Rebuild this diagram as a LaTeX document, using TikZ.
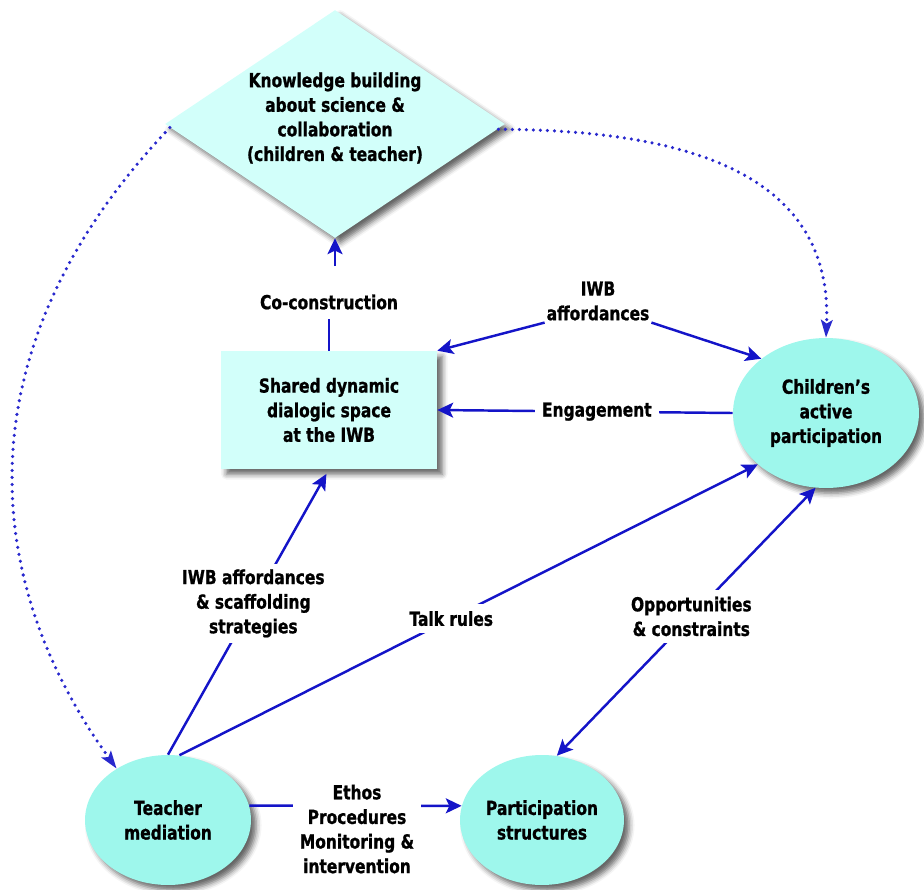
\documentclass[tikz,border=0pt]{standalone}
\usepackage{fontspec}
\setmainfont{DejaVu Sans}[FakeStretch=0.8,BoldFeatures={FakeBold=1}]
\usetikzlibrary{shapes.geometric,arrows.meta,shadows.blur}
\definecolor{arrowblue}{RGB}{20,20,200}
\definecolor{dotblue}{RGB}{40,40,205}
\definecolor{lightfill}{RGB}{210,255,250}
\definecolor{ovalfill}{RGB}{158,247,236}
\begin{document}
\begin{tikzpicture}[x=0.02cm,y=-0.02cm,
  font=\bfseries\fontsize{11}{14}\selectfont,
  shadowed/.style={blur shadow={shadow xshift=3pt,shadow yshift=-3pt,shadow blur radius=3pt,shadow opacity=60}},
  oval/.style={ellipse,fill=ovalfill,shadowed,align=center,inner sep=0pt},
  rectbox/.style={rectangle,fill=lightfill,shadowed,align=center,inner sep=0pt},
  diamondbox/.style={diamond,fill=lightfill,shadowed,align=center,inner sep=0pt,aspect=1.49},
  lab/.style={fill=white,inner sep=2pt,align=center},
  link/.style={draw=arrowblue,line width=1.4pt,-{Stealth[length=9pt,width=8.5pt,inset=2pt]}},
  dlink/.style={draw=arrowblue,line width=1.4pt,{Stealth[length=9pt,width=8.5pt,inset=2pt]}-{Stealth[length=9pt,width=8.5pt,inset=2pt]}},
  dotlink/.style={draw=dotblue,line width=2pt,dash pattern=on 0pt off 4pt,line cap=round,-{Stealth[length=10pt,width=6.5pt,inset=2pt]}}]
\useasboundingbox (0,0) rectangle (924,890);

% nodes
\node[diamondbox,minimum width=6.8cm,minimum height=4.56cm] (kb) at (335,124) {};
\node[align=center] (kbt) at (335,118) {Knowledge building\\about science \&\\collaboration\\(children \& teacher)};
\node[rectbox,minimum width=4.32cm,minimum height=2.36cm] (sds) at (329,410) {Shared dynamic\\dialogic space\\at the IWB};
\node[oval,minimum width=3.72cm,minimum height=3.0cm] (cap) at (826,413) {Children’s\\active\\participation};
\node[oval,minimum width=3.32cm,minimum height=2.6cm] (tm) at (168,820) {Teacher\\mediation};
\node[oval,minimum width=3.28cm,minimum height=2.6cm] (ps) at (542,820) {Participation\\structures};

% co-construction
\node[lab,inner sep=0pt] (cc) at (329,302) {Co-construction};
\coordinate (ccup) at ([yshift=16pt]cc.north);
\draw[draw=arrowblue,line width=1.4pt] (sds.north) -- ([yshift=-5pt]cc.south);
\draw[link] (ccup -| kb.south) -- (kb.south);

% IWB affordances
\node[lab,inner sep=1pt] (iwa) at (598,301) {IWB\\affordances};
\draw[link] (iwa.south west) -- (sds.north east);
\draw[link] (iwa.south east) -- (cap.140);

% Engagement
\draw[link] (cap.west) -- node[lab,pos=0.46,inner sep=4pt] (eng) {Engagement} (sds.east);

% teacher to shared space
\draw[link,shorten >=3pt] (tm.north) -- node[lab,pos=0.53,inner sep=3pt] (ias) {IWB affordances\\\& scaffolding\\strategies} (sds.south);

% talk rules
\draw[link] (tm.80) -- node[lab,pos=0.47,inner sep=4pt] (tr) {Talk rules} (cap.217);

% opportunities
\draw[dlink] (ps.77) -- node[lab,pos=0.52,inner sep=4pt] (oc) {Opportunities\\\& constraints} (cap.262);

% ethos
\draw[link] (tm.10) -- (ps.170);
\node[lab,inner sep=4pt] (eth) at (357,829) {Ethos\\Procedures\\Monitoring \&\\intervention};

% dotted
\draw[dotlink] ([xshift=3pt,yshift=-2pt]kb.west) .. controls (-28,335) and (-30,565) .. (tm.135);
\draw[dotlink] ([xshift=-4pt,yshift=-3pt]kb.east) .. controls (700,130) and (833,180) .. (cap.north);
\end{tikzpicture}
\end{document}
